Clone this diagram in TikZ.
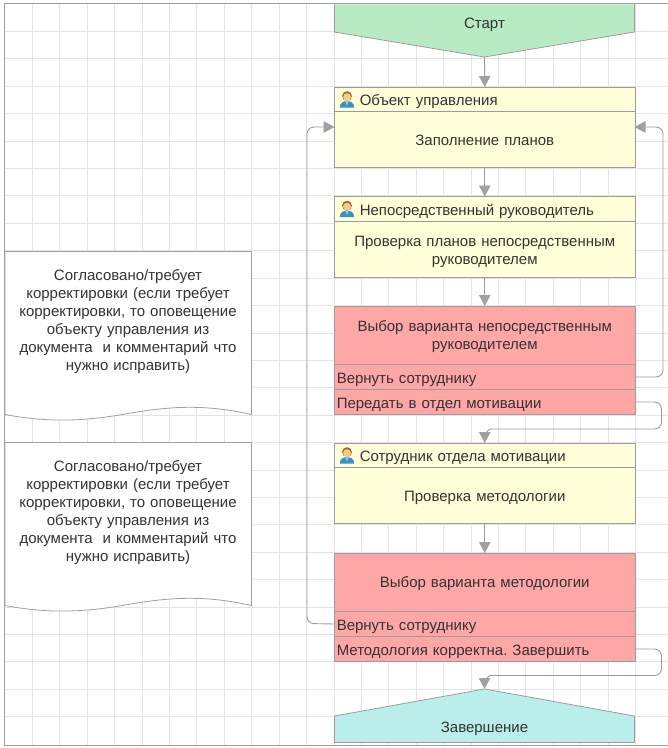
\documentclass[tikz,border=0pt]{standalone}
\usepackage{fontspec}
\setmainfont{Liberation Sans}
\usetikzlibrary{arrows.meta}
\definecolor{gridc}{HTML}{E4E4E4}
\definecolor{framec}{HTML}{A0A0A0}
\definecolor{linec}{HTML}{9C9C9C}
\definecolor{txt}{HTML}{333333}
\definecolor{startc}{HTML}{B8EBC4}
\definecolor{endc}{HTML}{BAEEEA}
\definecolor{yel}{HTML}{FFFFD9}
\definecolor{redc}{HTML}{FFA6A6}
\definecolor{hair}{HTML}{A8661E}
\definecolor{face}{HTML}{F6C98C}
\definecolor{suit}{HTML}{3A8FC4}
\definecolor{suitl}{HTML}{8CC8E0}
\frenchspacing
\tikzset{
  x=1pt,y=-1pt,
  every node/.style={text=txt,font=\fontsize{15}{18}\selectfont},
  row/.style={draw=linec,line width=.8pt,minimum width=300.5pt,inner sep=0pt,outer sep=0pt,anchor=north west},
  yelbody/.style={row,fill=yel,align=center,text width=290pt},
  redbody/.style={row,fill=redc,align=center,text width=290pt},
  head/.style={row,fill=yel,text width=296pt,align=left,minimum height=24.5pt},
  opt/.style={row,fill=redc,text width=296pt,align=left,minimum height=25pt},
  label/.style={inner sep=0pt,align=center},
  conn/.style={draw=linec,line width=.9pt,rounded corners=7pt},
  tip/.style={-{Triangle[length=11pt,width=11.5pt,color=framec]}},
  notebox/.style={draw=framec,line width=.8pt,fill=white},
}
% lowers the text of a row by #1 pt: a strut that makes the box taller at the top
\newcommand{\dn}[1]{\rule[-3.75pt]{0pt}{\dimexpr 10.5pt+2\dimexpr #1pt\relax\relax}}
\newcommand{\persona}[2]{%
  \begin{scope}[shift={(#1,#2)}]
    \fill[suit] (-7.2,17) .. controls (-7.2,12) and (-3,10.5) .. (0,10.5) .. controls (3,10.5) and (7.2,12) .. (7.2,17) -- cycle;
    \fill[suitl] (-2,10.7) -- (2,10.7) -- (0,15) -- cycle;
    \fill[hair] (0,5.6) circle (4.9);
    \fill[face] (0,6.6) circle (3.9);
  \end{scope}}
\begin{document}
\begin{tikzpicture}
\useasboundingbox (0,0) rectangle (668,748);
% grid
\foreach \k in {1,...,23} \draw[gridc,line width=.8pt] ({5+27.41*\k},4) -- ({5+27.41*\k},745);
\foreach \k in {1,...,26} \draw[gridc,line width=.8pt] (5,{4+27.41*\k}) -- (668,{4+27.41*\k});
\draw[framec,line width=1.1pt] (668,3.7) -- (4.6,3.7) -- (4.6,745.5) -- (668,745.5);

% start
\coordinate (startApex) at (484.5,57);
\fill[startc] (334.5,4.3) -- (634.5,4.3) -- (634.5,32) -- (startApex) -- (334.5,32) -- cycle;
\draw[linec,line width=.8pt] (334.5,4.3) -- (334.5,32) -- (startApex) -- (634.5,32) -- (634.5,4.3);
\node[label] (startText) at (484.5,25) {Старт};

% box 1
\node[head] (h1) at (334.5,87) {\dn{5}\hspace*{23pt}Объект управления};
\node[yelbody,minimum height=56pt] (b1) at (334.5,111.5) {\dn{4}Заполнение планов};
% box 2
\node[head] (h2) at (334.5,196.5) {\dn{5}\hspace*{23pt}Непосредственный руководитель};
\node[yelbody,minimum height=56pt] (b2) at (334.5,221) {\dn{5}Проверка планов непосредственным\\руководителем};
% red 1
\node[redbody,minimum height=58.5pt] (r1) at (334.5,306) {\dn{3}Выбор варианта непосредственным\\руководителем};
\node[opt] (r1a) at (334.5,364.5) {\dn{4.5}Вернуть сотруднику};
\node[opt] (r1b) at (334.5,389.5) {\dn{4.5}Передать в отдел мотивации};
% box 3
\node[head] (h3) at (334.5,443) {\dn{5}\hspace*{23pt}Сотрудник отдела мотивации};
\node[yelbody,minimum height=56pt] (b3) at (334.5,467.5) {\dn{4.5}Проверка методологии};
% red 2
\node[redbody,minimum height=58.5pt] (r2) at (334.5,553) {\dn{4}Выбор варианта методологии};
\node[opt] (r2a) at (334.5,611.5) {\dn{4.5}Вернуть сотруднику};
\node[opt] (r2b) at (334.5,636.5) {\dn{4.5}Методология корректна. Завершить};

% end
\coordinate (endApex) at (484.5,689);
\draw[linec,line width=.8pt,fill=endc] (endApex) -- (634.5,716) -- (634.5,742.5) -- (334.5,742.5) -- (334.5,716) -- cycle;
\node[label] (endText) at (484.5,729) {Завершение};

% icons
\persona{347}{90.5}
\persona{347}{200}
\persona{347}{446.5}

% notes
\draw[notebox] (5,251.5) -- (251.5,251.5) -- (251.5,414.5) .. controls (205,404) and (170,406) .. (125,414) .. controls (80,422) and (45,422) .. (5,414.5) -- cycle;
\node[label,text width=240pt] (n1) at (128,321.5) {Согласовано/требует\\корректировки (если требует\\корректировки, то оповещение\\объекту управления из\\документа\ \ и комментарий что\\нужно исправить)};
\draw[notebox] (5,442.5) -- (251.5,442.5) -- (251.5,605.5) .. controls (205,595) and (170,597) .. (125,605) .. controls (80,613) and (45,613) .. (5,605.5) -- cycle;
\node[label,text width=240pt] (n2) at (128,512.5) {Согласовано/требует\\корректировки (если требует\\корректировки, то оповещение\\объекту управления из\\документа\ \ и комментарий что\\нужно исправить)};

% connectors
\draw[conn,tip] (startApex) -- (h1.north);
\draw[conn,tip] (b1.south) -- (h2.north);
\draw[conn,tip] (b2.south) -- (r1.north);
\draw[conn,tip] (b3.south) -- (r2.north);
\coordinate (inR) at (634.5,127);
\coordinate (inL) at (334.5,127);
\draw[conn,tip] (r1a.east) -- (663,377) -- (663,127) -- (inR);
\draw[conn,tip] (r2a.west) -- (307,623.5) -- (307,127) -- (inL);
\coordinate (c1) at (490,429);
\draw[conn] (r1b.east) -- (661.5,402) -- (661.5,429) -- (c1);
\draw[conn,tip] (c1) to[out=180,in=90,looseness=.5] (h3.north);
\coordinate (c2) at (490,675.5);
\draw[conn] (r2b.east) -- (661.5,649) -- (661.5,675.5) -- (c2);
\draw[conn,tip] (c2) to[out=180,in=90,looseness=.5] (endApex);
\end{tikzpicture}
\end{document}
